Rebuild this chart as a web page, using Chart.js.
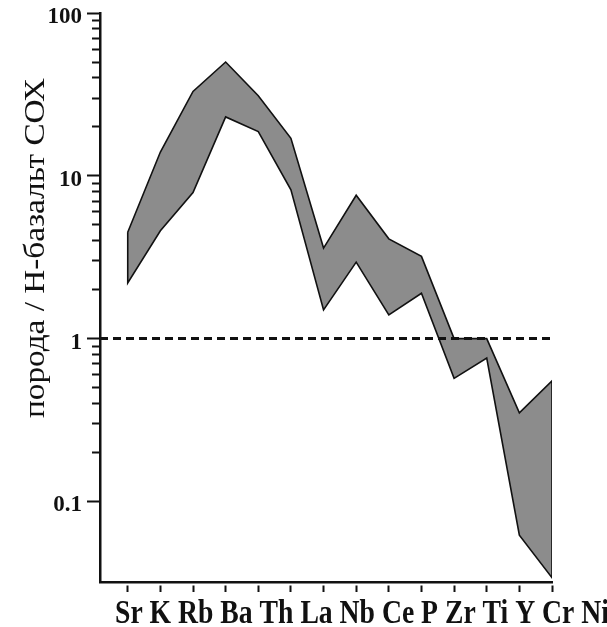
<!DOCTYPE html>
<html>
<head>
<meta charset="utf-8">
<script src="https://cdn.jsdelivr.net/npm/chart.js@4.4.1/dist/chart.umd.min.js"></script>
<style>
  html, body { margin: 0; padding: 0; background: #fff; }
  #wrap { width: 607px; height: 627px; position: relative; }
</style>
</head>
<body>
<div id="wrap"><canvas id="spider"></canvas></div>
<script>
// Elements in diagram order (MORB-normalised spider plot)
const elements = ['Sr', 'K', 'Rb', 'Ba', 'Th', 'La', 'Nb', 'Ce', 'P', 'Zr', 'Ti', 'Y', 'Cr', 'Ni'];

// Upper and lower envelope of the normalised concentrations
const upperEnvelope = [4.5, 14, 33, 50, 31, 17, 3.6, 7.6, 4.1, 3.2, 1.0, 1.0, 0.35, 0.55];
const lowerEnvelope = [2.2, 4.6, 7.9, 23, 18.7, 8.2, 1.5, 2.95, 1.4, 1.9, 0.57, 0.76, 0.062, 0.034];

// Reference level (rock = N-MORB)
const referenceLevel = 1;

// Logarithmic axis: labelled decades and the minor multipliers drawn between them
const yDecades = [0.1, 1, 10, 100];
const yMinorSteps = [2, 3, 4, 5, 6, 7, 8, 9];
const yMin = 0.032, yMax = 100;
const xMin = -0.85, xMax = 13;

const yTickValues = [];
yDecades.forEach((d, i) => {
  yTickValues.push(d);
  if (i < yDecades.length - 1) yMinorSteps.forEach(m => yTickValues.push(+(d * m).toPrecision(3)));
});

// Closed envelope: along the top left→right, back along the bottom right→left
const envelopePoints = [
  ...upperEnvelope.map((v, i) => ({ x: i, y: v })),
  ...lowerEnvelope.map((v, i) => ({ x: i, y: v })).reverse(),
  { x: 0, y: upperEnvelope[0] }
];

const axisTitle = 'порода / Н-базальт СОХ';
const serif = '"Liberation Serif", "Times New Roman", serif';
const ink = '#111';

// Typed-style captions: element names under the axis and the rotated y title
const captions = {
  id: 'captions',
  afterDraw(chart) {
    const { ctx, chartArea } = chart;
    ctx.save();
    ctx.fillStyle = ink;
    ctx.textBaseline = 'alphabetic';
    ctx.textAlign = 'left';

    ctx.font = 'bold 33px ' + serif;
    const line = elements.join(' ');
    const w = ctx.measureText(line).width;
    ctx.save();
    ctx.translate(chartArea.left + 15, chartArea.bottom + 41);
    ctx.scale(494 / w, 1);
    ctx.fillText(line, 0, 0);
    ctx.restore();

    ctx.font = '30px ' + serif;
    const tw = ctx.measureText(axisTitle).width;
    ctx.translate(44, 248);
    ctx.rotate(-Math.PI / 2);
    ctx.scale(340 / tw, 1);
    ctx.textAlign = 'center';
    ctx.fillText(axisTitle, 0, 0);
    ctx.restore();
  }
};

const isDecade = v => yDecades.some(d => Math.abs(d - v) < 1e-9);

new Chart(document.getElementById('spider'), {
  type: 'line',
  data: {
    datasets: [
      {
        label: 'N-MORB',
        data: [{ x: xMin, y: referenceLevel }, { x: xMax, y: referenceLevel }],
        borderColor: ink,
        borderWidth: 3,
        borderDash: [8, 5],
        pointRadius: 0,
        fill: false,
        order: 0
      },
      {
        label: 'envelope',
        data: envelopePoints,
        borderColor: ink,
        borderWidth: 1.6,
        backgroundColor: '#8c8c8c',
        pointRadius: 0,
        tension: 0,
        fill: 'shape',
        order: 1
      }
    ]
  },
  options: {
    responsive: true,
    maintainAspectRatio: false,
    animation: false,
    events: [],
    layout: { padding: { top: 13, right: 55, left: 0, bottom: 0 } },
    plugins: { legend: { display: false }, tooltip: { enabled: false } },
    scales: {
      x: {
        type: 'linear',
        min: xMin,
        max: xMax,
        afterBuildTicks: s => { s.ticks = elements.map((_, i) => ({ value: i })); },
        afterFit: s => { s.height = 45; s.paddingLeft = 0; s.paddingRight = 0; s.paddingTop = 0; s.paddingBottom = 0; },
        ticks: { callback: () => '', padding: 0 },
        grid: {
          drawOnChartArea: false,
          drawTicks: true,
          tickLength: 10,
          tickWidth: 2,
          tickColor: ink,
          tickBorderDash: [0, 2, 8, 0]
        },
        border: { display: true, color: ink, width: 2.5 }
      },
      y: {
        type: 'logarithmic',
        min: yMin,
        max: yMax,
        afterBuildTicks: s => { s.ticks = yTickValues.map(v => ({ value: v })); },
        afterFit: s => { s.width = 100; s.paddingTop = 0; s.paddingBottom = 0; s.paddingLeft = 0; s.paddingRight = 0; },
        ticks: {
          autoSkip: false,
          padding: 5,
          labelOffset: 4,
          color: ink,
          font: { family: serif, weight: 'bold', size: 23, lineHeight: 1 },
          callback: v => (isDecade(v) ? String(v) : '')
        },
        grid: {
          drawOnChartArea: false,
          drawTicks: true,
          tickLength: 13,
          tickWidth: 2,
          tickColor: ink,
          tickBorderDash: ctx => (isDecade(ctx.tick.value) ? [] : [0, 5, 8, 0])
        },
        border: { display: true, color: ink, width: 2.5 }
      }
    }
  },
  plugins: [captions]
});
</script>
</body>
</html>
